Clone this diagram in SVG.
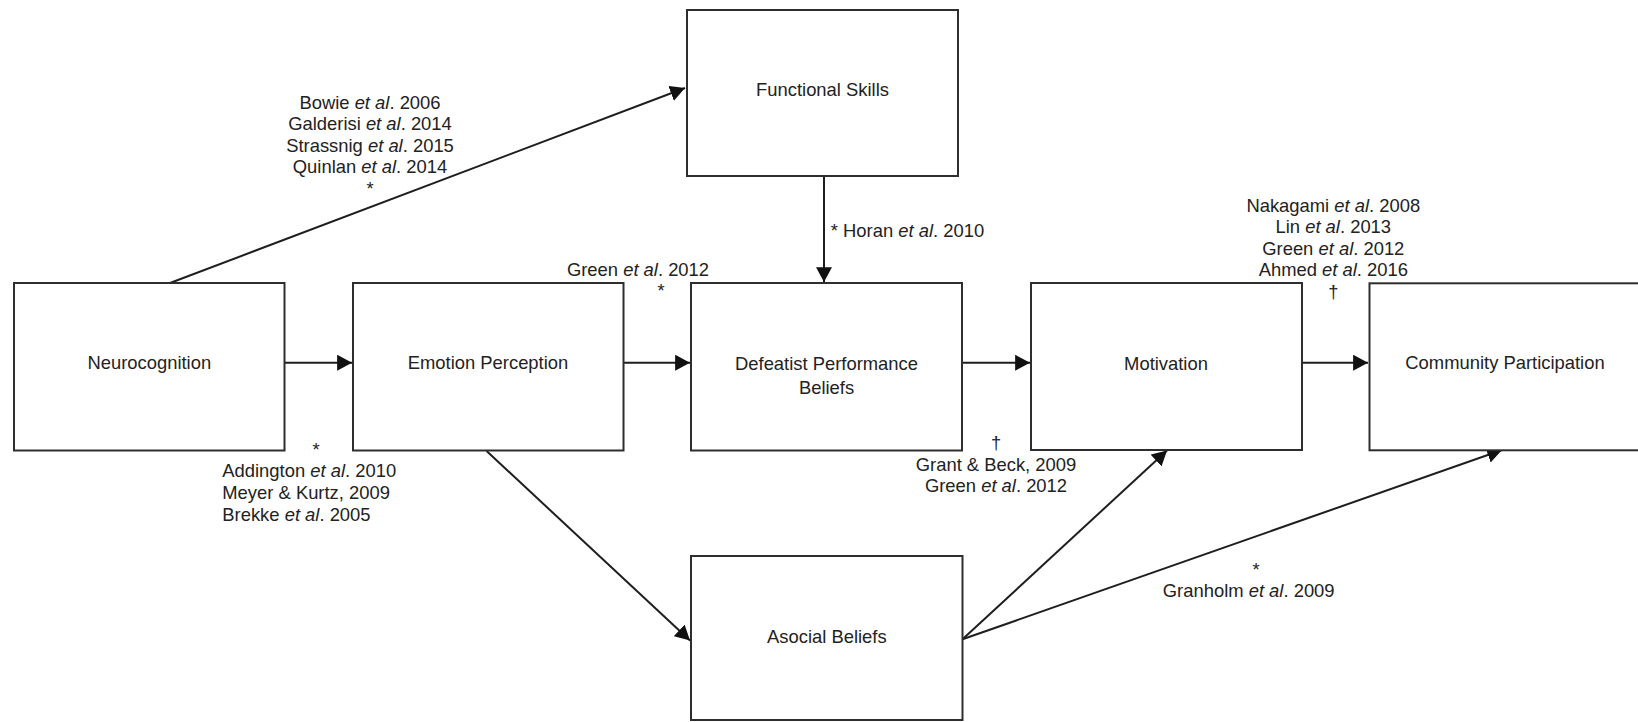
<svg xmlns="http://www.w3.org/2000/svg" width="1638" height="722" viewBox="0 0 1638 722">
  <style>
    .box { fill: #ffffff; stroke: #2e2e2e; stroke-width: 2; }
    .conn { fill: none; stroke: #1e1e1e; stroke-width: 2; marker-end: url(#arrow); }
    text { font-family: "Liberation Sans", Arial, sans-serif; font-size: 18.4px; fill: #222222; }
    .c { text-anchor: middle; }
    .s { text-anchor: start; }
    .it { font-style: italic; }
  </style>
  <defs>
    <marker id="arrow" markerUnits="userSpaceOnUse" markerWidth="16" markerHeight="16" viewBox="0 0 14 14" refX="13" refY="7" orient="auto">
      <path d="M0,0 L13,7 L0,14 Z" fill="#111111"/>
    </marker>
  </defs>
  <rect width="1638" height="722" fill="#ffffff"/>

  <g id="connectors">
    <line class="conn" x1="170" y1="283" x2="685" y2="88"/>
    <line class="conn" x1="824" y1="176" x2="824" y2="282"/>
    <line class="conn" x1="285" y1="362.7" x2="352" y2="362.7"/>
    <line class="conn" x1="624" y1="362.7" x2="690" y2="362.7"/>
    <line class="conn" x1="963" y1="362.7" x2="1030" y2="362.7"/>
    <line class="conn" x1="1303" y1="362.7" x2="1368" y2="362.7"/>
    <line class="conn" x1="486.6" y1="451" x2="690" y2="640.5"/>
    <line class="conn" x1="962.5" y1="639.3" x2="1167" y2="450.5"/>
    <line class="conn" x1="962.5" y1="639.3" x2="1502" y2="450"/>
  </g>

  <g id="node-neurocognition">
    <rect class="box" x="14" y="283" width="270.5" height="167.5"/>
    <text class="c" x="149.3" y="369.3">Neurocognition</text>
  </g>
  <g id="node-emotion-perception">
    <rect class="box" x="353" y="283" width="270.5" height="167.5"/>
    <text class="c" x="488" y="369.3">Emotion Perception</text>
  </g>
  <g id="node-functional-skills">
    <rect class="box" x="687" y="10" width="271" height="166"/>
    <text class="c" x="822.5" y="95.9">Functional Skills</text>
  </g>
  <g id="node-defeatist">
    <rect class="box" x="691" y="283" width="271" height="167.5"/>
    <text class="c" x="826.5" y="370">Defeatist Performance</text>
    <text class="c" x="826.5" y="394">Beliefs</text>
  </g>
  <g id="node-motivation">
    <rect class="box" x="1031" y="283" width="271" height="167"/>
    <text class="c" x="1166" y="369.9">Motivation</text>
  </g>
  <g id="node-community">
    <rect class="box" x="1369.5" y="283.3" width="280" height="167"/>
    <text class="c" x="1505" y="369.3">Community Participation</text>
  </g>
  <g id="node-asocial">
    <rect class="box" x="691" y="556" width="271.5" height="164"/>
    <text class="c" x="826.8" y="642.6">Asocial Beliefs</text>
  </g>

  <g id="labels">
    <text class="c" x="370" y="108.5">Bowie <tspan class="it">et al</tspan>. 2006</text>
    <text class="c" x="370" y="130">Galderisi <tspan class="it">et al</tspan>. 2014</text>
    <text class="c" x="370" y="151.5">Strassnig <tspan class="it">et al</tspan>. 2015</text>
    <text class="c" x="370" y="173">Quinlan <tspan class="it">et al</tspan>. 2014</text>
    <text class="c" x="370" y="194.5">*</text>

    <text class="s" x="830.8" y="237.3">* Horan <tspan class="it">et al</tspan>. 2010</text>

    <text class="c" x="638" y="275.6">Green <tspan class="it">et al</tspan>. 2012</text>
    <text class="c" x="661" y="297">*</text>

    <text class="c" x="316" y="455.5">*</text>
    <text class="s" x="222.3" y="477.3">Addington <tspan class="it">et al</tspan>. 2010</text>
    <text class="s" x="222.3" y="498.9">Meyer &amp; Kurtz, 2009</text>
    <text class="s" x="222.3" y="520.6">Brekke <tspan class="it">et al</tspan>. 2005</text>

    <text class="c" x="996" y="448.5">†</text>
    <text class="c" x="996" y="470.6">Grant &amp; Beck, 2009</text>
    <text class="c" x="996" y="492">Green <tspan class="it">et al</tspan>. 2012</text>

    <text class="c" x="1333.3" y="211.6">Nakagami <tspan class="it">et al</tspan>. 2008</text>
    <text class="c" x="1333.3" y="233.3">Lin <tspan class="it">et al</tspan>. 2013</text>
    <text class="c" x="1333.3" y="254.9">Green <tspan class="it">et al</tspan>. 2012</text>
    <text class="c" x="1333.3" y="275.9">Ahmed <tspan class="it">et al</tspan>. 2016</text>
    <text class="c" x="1333.3" y="298">†</text>

    <text class="c" x="1256" y="575.5">*</text>
    <text class="c" x="1248.7" y="597.3">Granholm <tspan class="it">et al</tspan>. 2009</text>
  </g>
</svg>
